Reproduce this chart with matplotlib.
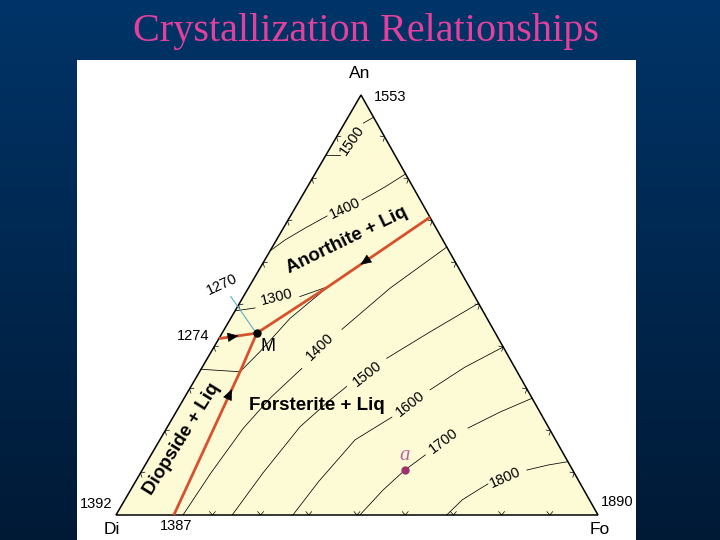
import numpy as np
import matplotlib
matplotlib.use('Agg')
import matplotlib.pyplot as plt
from matplotlib.patches import Rectangle, Polygon
from matplotlib.colors import LinearSegmentedColormap

# corners of the ternary diagram on the slide (pixels)
DI_XY = (116.0, 515.0)
FO_XY = (598.0, 515.0)
AN_XY = (361.0, 95.0)

# ---- data, wt% (Fo, An); Di is the rest ----
eutectic_M = (7.2, 43.3)
eutectic_di_an = (0.0, 42.0)
cotectic_an = [(7.2, 43.3), (16.4, 54.4), (29.1, 70.9)]
cotectic_di = [(7.2, 43.3), (8.3, 34.9), (12.0, 0.0)]
cotectic_bin = [(0.0, 42.0), (7.2, 43.3)]
blue_line = [(-2.6, 52.0), (6.3, 44.0)]
point_a = (54.5, 10.7)

# isotherms, each split where its label sits
iso_an_1500 = [[(0.0, 85.7), (2.9, 85.7)], [(3.9, 93.3), (5.3, 94.7)]]
iso_an_1400 = [[(0.0, 62.9), (1.8, 65.5), (4.5, 68.3), (7.6, 71.2)],
               [(12.9, 75.0), (16.1, 78.1), (18.8, 81.2)]]
iso_1300 = [[(0.0, 48.6), (3.8, 49.3)],
            [(11.7, 52.0), (16.4, 54.4), (12.3, 46.8), (10.1, 38.9), (8.4, 34.1), (0.0, 34.7)]]
iso_fo_1400 = [[(13.9, 0.0), (14.6, 10.0), (15.9, 20.6), (17.9, 28.0), (20.8, 34.9)],
               [(24.4, 44.2), (29.4, 54.0), (36.2, 63.8)]]
iso_fo_1500 = [[(24.1, 0.0), (25.4, 10.0), (27.5, 21.0), (30.5, 27.4), (32.3, 30.6)],
               [(37.2, 37.3), (43.0, 43.6), (49.6, 50.4)]]
iso_fo_1600 = [[(36.7, 0.0), (38.0, 8.0), (40.5, 17.9), (45.4, 23.3)],
               [(50.0, 29.8), (54.5, 35.2), (60.0, 40.0)]]
iso_fo_1700 = [[(50.6, 0.0), (52.4, 6.0), (54.5, 10.7), (56.9, 14.3)],
               [(62.5, 20.7), (67.2, 24.5), (72.2, 27.8)]]
iso_fo_1800 = [[(68.6, 0.0), (70.0, 3.6), (72.1, 6.0), (73.4, 7.4)],
               [(79.8, 10.7), (83.6, 11.9), (87.3, 12.7)]]
isotherms = [iso_an_1500, iso_an_1400, iso_1300, iso_fo_1400,
             iso_fo_1500, iso_fo_1600, iso_fo_1700, iso_fo_1800]

iso_label_text = ['1500', '1400', '1300', '1400', '1500', '1600', '1700', '1800']
iso_label_pos = [(3.5, 89.3), (10.4, 73.1), (7.0, 51.9), (22.0, 40.0),
                 (35.0, 33.6), (47.6, 26.4), (59.1, 17.6), (76.2, 8.8)]
iso_label_rot = [55, 25, 14, 44, 38, 38, 37, 24]

field_text = ['Anorthite + Liq', 'Forsterite + Liq', 'Diopside + Liq']
field_pos = [(14.6, 65.5), (28.5, 26.0), (4.5, 18.1)]
field_rot = [26, 0, 58]

# tick fractions along each edge: Di-Fo, Fo-An, An-Di
tick_fracs = [[0.2, 0.3, 0.4, 0.5, 0.6, 0.7, 0.8, 0.9],
              [0.1, 0.2, 0.3, 0.4, 0.5, 0.6, 0.7, 0.8, 0.9],
              [0.1, 0.2, 0.3, 0.4, 0.5, 0.6, 0.7, 0.8, 0.9]]

RED = '#d8502c'
SANS = 'Liberation Sans'


def tern(fo, an):
    '''wt% Fo, An -> slide pixels.'''
    fo = np.asarray(fo, dtype=float) / 100.
    an = np.asarray(an, dtype=float) / 100.
    x = DI_XY[0] + fo * (FO_XY[0] - DI_XY[0]) + an * (AN_XY[0] - DI_XY[0])
    y = DI_XY[1] + fo * (FO_XY[1] - DI_XY[1]) + an * (AN_XY[1] - DI_XY[1])
    return x, y


def tplot(ax, pts, **kw):
    fo, an = zip(*pts)
    x, y = tern(fo, an)
    ax.plot(x, y, **kw)


def arrow_on(ax, p0, p1, frac):
    '''Small black arrow head on segment p0->p1.'''
    x0, y0 = tern(*p0)
    x1, y1 = tern(*p1)
    xm, ym = x0 + frac * (x1 - x0), y0 + frac * (y1 - y0)
    d = np.hypot(x1 - x0, y1 - y0)
    ux, uy = (x1 - x0) / d, (y1 - y0) / d
    ax.annotate('', xy=(xm + 3 * ux, ym + 3 * uy), xytext=(xm, ym),
                arrowprops=dict(arrowstyle='-|>,head_length=0.7,head_width=0.3',
                                color='k', lw=0.5, shrinkA=0, shrinkB=0,
                                mutation_scale=10), zorder=6)


fig = plt.figure(figsize=(7.2, 5.4), dpi=100)
ax = fig.add_axes([0, 0, 1, 1])
ax.set_xlim(0, 720)
ax.set_ylim(540, 0)
ax.axis('off')

# slide background
cm = LinearSegmentedColormap.from_list('bg', ['#003468', '#001a36'])
ax.imshow(np.linspace(0, 1, 256)[:, None], extent=(0, 720, 540, 0),
          aspect='auto', cmap=cm, zorder=0)
ax.text(366, 41, 'Crystallization Relationships', fontsize=29,
        family='Liberation Serif', color='#e2409c', ha='center', va='baseline')
ax.add_patch(Rectangle((77, 60), 559, 480, facecolor='white', edgecolor='none', zorder=1))

# triangle
ax.add_patch(Polygon([DI_XY, FO_XY, AN_XY], closed=True, facecolor='#fdfbd6',
                     edgecolor='k', lw=1.1, zorder=2))

# edge ticks, small chevrons pointing outwards
corners = [DI_XY, FO_XY, AN_XY]
centre = np.mean(np.array(corners), axis=0)
for i in range(3):
    a = np.array(corners[i])
    b = np.array(corners[(i + 1) % 3])
    t = (b - a) / np.hypot(*(b - a))
    n = np.array([-t[1], t[0]])
    if np.dot(centre - a, n) < 0:
        n = -n
    for f in tick_fracs[i]:
        p = a + f * (b - a)
        arm1 = p + 4.5 * (0.75 * n + 0.65 * t)
        arm2 = p + 4.5 * (0.75 * n - 0.65 * t)
        ax.plot([arm1[0], p[0], arm2[0]], [arm1[1], p[1], arm2[1]],
                color='k', lw=0.5, zorder=3)

# isotherms
for iso in isotherms:
    for seg in iso:
        tplot(ax, seg, color='k', lw=0.55, zorder=3)
for txt, pos, rot in zip(iso_label_text, iso_label_pos, iso_label_rot):
    x, y = tern(*pos)
    ax.text(x, y, txt, fontsize=10.5, family=SANS, rotation=rot,
            ha='center', va='center', rotation_mode='anchor', zorder=5)

tplot(ax, blue_line, color='#5aaec8', lw=0.8, zorder=4)

# cotectics
for line in [cotectic_an, cotectic_di, cotectic_bin]:
    tplot(ax, line, color=RED, lw=2.0, solid_capstyle='butt', zorder=4)
arrow_on(ax, cotectic_an[2], cotectic_an[1], 0.66)
arrow_on(ax, cotectic_di[2], cotectic_di[1], 0.84)
arrow_on(ax, cotectic_bin[0], cotectic_bin[1], 0.44)

mx, my = tern(*eutectic_M)
ax.plot(mx, my, 'o', color='k', ms=5, zorder=7)
x, y = tern(11.1, 40.2)
ax.text(x, y, 'M', fontsize=13, family=SANS, ha='center', va='center', zorder=5)
x, y = tern(-5.7, 42.6)
ax.text(x, y, '1274', fontsize=10.5, family=SANS, ha='center', va='center')
x, y = tern(-5.8, 54.8)
ax.text(x, y, '1270', fontsize=10.5, family=SANS, rotation=25,
        ha='center', va='center', rotation_mode='anchor')

# field names
for txt, pos, rot in zip(field_text, field_pos, field_rot):
    x, y = tern(*pos)
    ax.text(x, y, txt, fontsize=13.5, family=SANS, weight='bold', rotation=rot,
            ha='center', va='center', rotation_mode='anchor', zorder=5)

# bulk composition a
ax_, ay_ = tern(*point_a)
ax.plot(ax_, ay_, 'o', color='#a0306e', ms=5, zorder=7)
ax.text(ax_, ay_ - 15, 'a', fontsize=15, family='Liberation Serif', style='italic',
        color='#c060a0', ha='center', va='center')

# corner labels and melting points
ax.text(360, 74, 'An', fontsize=12.5, family=SANS, ha='center', va='center')
ax.text(112, 529, 'Di', fontsize=12.5, family=SANS, ha='center', va='center')
ax.text(600, 529, 'Fo', fontsize=12.5, family=SANS, ha='center', va='center')
ax.text(390, 97, '1553', fontsize=10.5, family=SANS, ha='center', va='center')
ax.text(96, 504, '1392', fontsize=10.5, family=SANS, ha='center', va='center')
ax.text(176, 526, '1387', fontsize=10.5, family=SANS, ha='center', va='center')
ax.text(617, 502, '1890', fontsize=10.5, family=SANS, ha='center', va='center')

fig.savefig('out.png', dpi=100)
